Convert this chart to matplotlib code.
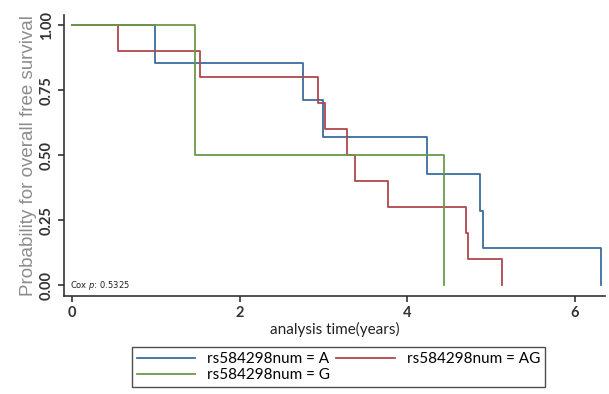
import matplotlib.pyplot as plt

# Kaplan-Meier step data
time_a = [0, 0.99, 2.76, 2.99, 4.24, 4.87, 4.91, 6.32]
surv_a = [1.0, 0.857, 0.714, 0.571, 0.429, 0.286, 0.143, 0.0]
time_ag = [0, 0.55, 1.53, 2.94, 3.02, 3.28, 3.38, 3.77, 4.70, 4.73, 5.13]
surv_ag = [1.0, 0.9, 0.8, 0.7, 0.6, 0.5, 0.4, 0.3, 0.2, 0.1, 0.0]
time_g = [0, 1.46, 4.44]
surv_g = [1.0, 0.5, 0.0]

labels = ["rs584298num = A", "rs584298num = AG", "rs584298num = G"]
colors = ["#3c6c9e", "#b0464e", "#6b9a45"]

fig = plt.figure(figsize=(6.09, 3.94), dpi=100)
ax = fig.add_axes([0.105, 0.249, 0.888, 0.713])

la, = ax.step(time_a, surv_a, where="post", color=colors[0], lw=1.3, label=labels[0])
lag, = ax.step(time_ag, surv_ag, where="post", color=colors[1], lw=1.3, label=labels[1])
lg, = ax.step(time_g, surv_g, where="post", color=colors[2], lw=1.3, label=labels[2])

ax.set_xlim(-0.1, 6.36)
ax.set_ylim(-0.04, 1.04)
ax.set_xticks([0, 2, 4, 6])
ax.set_yticks([0, 0.25, 0.5, 0.75, 1.0])
ax.set_yticklabels(["0.00", "0.25", "0.50", "0.75", "1.00"], rotation=90, va="center")
ax.tick_params(axis="both", labelsize=10.5, colors="#333333", length=4, width=1.2)
for t in ax.get_xticklabels() + ax.get_yticklabels():
    t.set_family("Lato")
    t.set_fontweight("bold")
ax.spines["top"].set_visible(False)
ax.spines["right"].set_visible(False)
ax.spines["left"].set_linewidth(1.2)
ax.spines["bottom"].set_linewidth(1.2)
ax.spines["left"].set_color("#333333")
ax.spines["bottom"].set_color("#333333")

ax.set_ylabel("Probability for overall free survival", fontsize=13.5, color="#8c8c8c",
              labelpad=2, family="Liberation Sans")
ax.set_xlabel("analysis time(years)", fontsize=11, color="#222222", labelpad=1, family="Lato")

ax.text(-0.03, 0.0, "Cox $p$: 0.5325", fontsize=6, va="center", ha="left", color="#222222")

# column-major order so that A and AG share the first row
leg = fig.legend([la, lg, lag], [labels[0], labels[2], labels[1]], loc="upper left",
                 bbox_to_anchor=(0.205, 0.138), ncol=2, prop={"family": "Lato", "size": 11},
                 frameon=True, fancybox=False, edgecolor="#222222", handlelength=3.8,
                 columnspacing=0.4, borderpad=0.3, labelspacing=0.15, handletextpad=0.8)
leg.get_frame().set_linewidth(1.0)

fig.savefig("out.png", dpi=100)
